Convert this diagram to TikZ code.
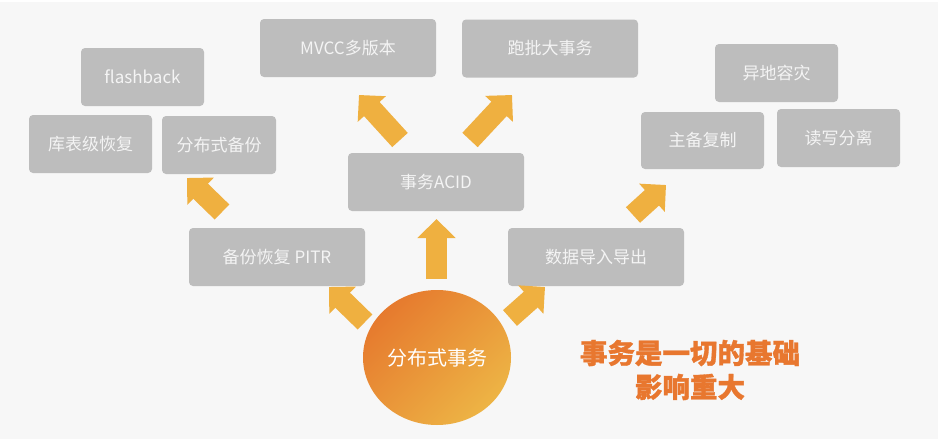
\documentclass[tikz,border=0pt]{standalone}
\usepackage{fontspec}
\setmainfont{Noto Sans CJK SC}
\usetikzlibrary{shapes.geometric,arrows.meta}
\definecolor{bgc}{HTML}{F7F7F7}
\definecolor{boxgray}{HTML}{BDBDBD}
\definecolor{boxtext}{HTML}{F4F4F4}
\definecolor{arrowc}{HTML}{EFB040}
\definecolor{orgdark}{HTML}{E67A2E}
\definecolor{orglight}{HTML}{EDB445}
\definecolor{orgtext}{HTML}{E8772F}
\begin{document}
\begin{tikzpicture}[x=1pt,y=-1pt,
  box/.style={fill=boxgray, rounded corners=4pt, text=boxtext, inner sep=0pt,
    font=\fontsize{17}{20}\selectfont, minimum height=58pt},
  bigarrow/.style={draw=arrowc, line width=21pt, -{Triangle[length=19pt,width=37pt]}}]
\useasboundingbox (0,0) rectangle (943,439);
\fill[white] (0,0) rectangle (943,439);
\fill[bgc] (0,2) rectangle (938,439);

% boxes
\node[box, minimum width=123pt] (flash) at (142.5,77) {flashback};
\node[box, minimum width=123pt] (kubiao) at (90.5,144) {库表级恢复};
\node[box, minimum width=114pt] (fbsbf) at (219,145) {分布式备份};
\node[box, minimum width=176pt] (mvcc) at (348,48) {MVCC多版本};
\node[box, minimum width=176pt] (acid) at (436,182) {事务ACID};
\node[box, minimum width=176pt] (paopi) at (550,48.5) {跑批大事务};
\node[box, minimum width=123pt] (yidi) at (776.5,73) {异地容灾};
\node[box, minimum width=123pt, minimum height=57pt] (zhubei) at (702.5,140.5) {主备复制};
\node[box, minimum width=123pt] (duxie) at (838.5,138) {读写分离};
\node[box, minimum width=176pt] (pitr) at (277,257) {备份恢复 PITR};
\node[box, minimum width=176pt] (shuju) at (596,257) {数据导入导出};

% central ellipse
\node[ellipse, minimum width=148pt, minimum height=135pt, inner sep=0pt,
  top color=orgdark, bottom color=orglight, shading angle=45,
  text=white, font=\fontsize{20}{24}\selectfont] (core) at (437,357.5) {分布式事务};

% arrow end points
\coordinate (t1) at (436.5,279); \coordinate (h1) at (436.5,219);
\coordinate (t2) at (400,140);   \coordinate (h2) at (359,95);
\coordinate (t3) at (470,140);   \coordinate (h3) at (512,95);
\coordinate (t4) at (365,322);   \coordinate (h4) at (329,287);
\coordinate (t5) at (510,318);   \coordinate (h5) at (545,287);
\coordinate (t6) at (222,212);   \coordinate (h6) at (187,178);
\coordinate (t7) at (633,215);   \coordinate (h7) at (666,185);

\draw[bigarrow] (t1) -- (h1);
\draw[bigarrow] (t2) -- (h2);
\draw[bigarrow] (t3) -- (h3);
\draw[bigarrow] (t4) -- (h4);
\draw[bigarrow] (t5) -- (h5);
\draw[bigarrow] (t6) -- (h6);
\draw[bigarrow] (t7) -- (h7);

% slogan
\node[text=orgtext, align=center, font=\fontsize{27.5}{34}\selectfont\bfseries\addfontfeatures{FakeBold=1.2}] (slogan) at (690,370) {事务是一切的基础\\影响重大};
\end{tikzpicture}
\end{document}
